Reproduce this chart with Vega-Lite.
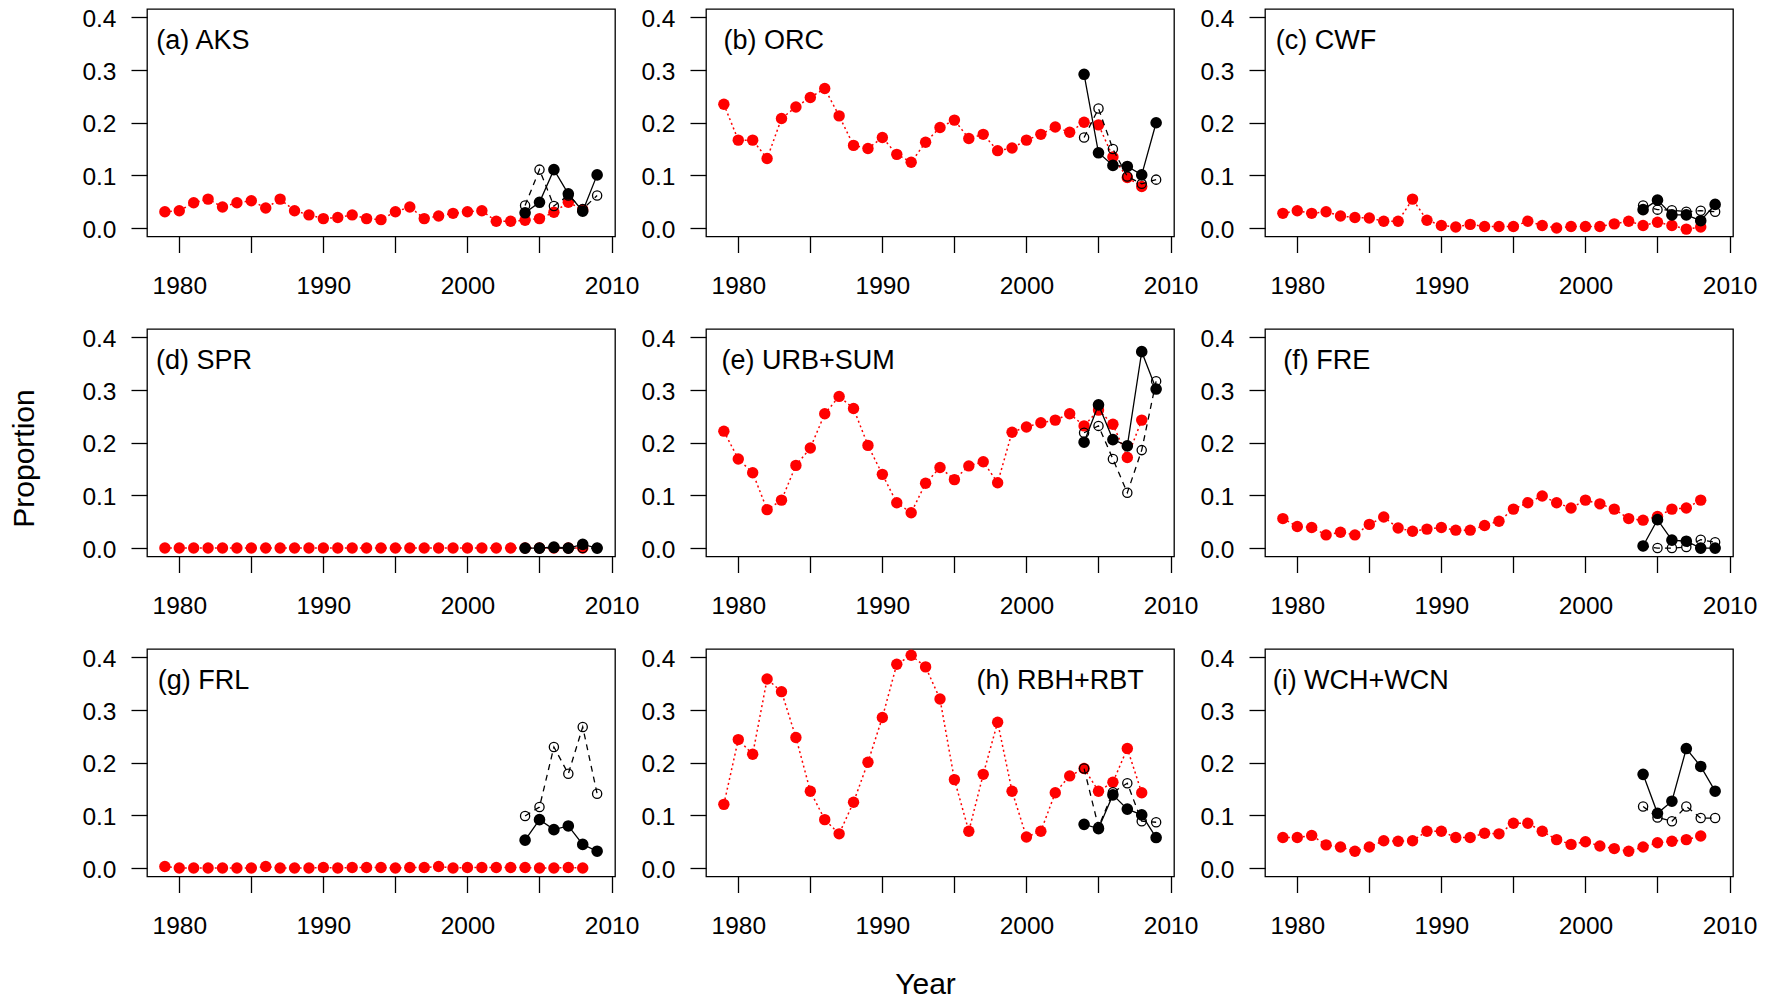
{
"$schema": "https://vega.github.io/schema/vega-lite/v6.json",
"padding": {"left": 8, "top": 5, "right": 10, "bottom": 5},
"columns": 3,
"spacing": {"row": 92, "column": 91},
"bounds": "flush",
"config": {
  "font": "Liberation Sans",
  "view": {"stroke": "black", "strokeWidth": 1.3},
  "axis": {"domain": false, "grid": false, "tickColor": "black", "tickWidth": 1.3, "tickSize": 16, "labelColor": "black", "labelFont": "Liberation Sans", "labelFontSize": 24.5, "labelFlush": false, "labelOverlap": false, "titleFont": "Liberation Sans", "titleFontSize": 30, "titleFontWeight": "normal", "titleColor": "black"},
  "axisX": {"labelPadding": 22},
  "axisY": {"labelPadding": 15, "labelOffset": 2},
  "text": {"font": "Liberation Sans", "fontSize": 27, "fill": "black"}
},
"datasets": {
"labels": [{"panel":"a","label":"(a) AKS"},{"panel":"b","label":"(b) ORC"},{"panel":"c","label":"(c) CWF"},{"panel":"d","label":"(d) SPR"},{"panel":"e","label":"(e) URB+SUM"},{"panel":"f","label":"(f) FRE"},{"panel":"g","label":"(g) FRL"},{"panel":"h","label":"(h) RBH+RBT"},{"panel":"i","label":"(i) WCH+WCN"}],
"a_hist": [{"year":1979,"value":0.031},{"year":1980,"value":0.033},{"year":1981,"value":0.048},{"year":1982,"value":0.055},{"year":1983,"value":0.040},{"year":1984,"value":0.048},{"year":1985,"value":0.052},{"year":1986,"value":0.038},{"year":1987,"value":0.055},{"year":1988,"value":0.033},{"year":1989,"value":0.025},{"year":1990,"value":0.018},{"year":1991,"value":0.020},{"year":1992,"value":0.025},{"year":1993,"value":0.018},{"year":1994,"value":0.016},{"year":1995,"value":0.031},{"year":1996,"value":0.040},{"year":1997,"value":0.018},{"year":1998,"value":0.023},{"year":1999,"value":0.028},{"year":2000,"value":0.031},{"year":2001,"value":0.033},{"year":2002,"value":0.013},{"year":2003,"value":0.013},{"year":2004,"value":0.015},{"year":2005,"value":0.018},{"year":2006,"value":0.030},{"year":2007,"value":0.049},{"year":2008,"value":0.035}],
"a_m1": [{"year":2004,"value":0.029},{"year":2005,"value":0.049},{"year":2006,"value":0.111},{"year":2007,"value":0.065},{"year":2008,"value":0.032},{"year":2009,"value":0.101}],
"a_m2": [{"year":2004,"value":0.043},{"year":2005,"value":0.111},{"year":2006,"value":0.042},{"year":2007,"value":0.062},{"year":2008,"value":0.036},{"year":2009,"value":0.062}],
"b_hist": [{"year":1979,"value":0.235},{"year":1980,"value":0.167},{"year":1981,"value":0.167},{"year":1982,"value":0.132},{"year":1983,"value":0.208},{"year":1984,"value":0.230},{"year":1985,"value":0.248},{"year":1986,"value":0.265},{"year":1987,"value":0.213},{"year":1988,"value":0.157},{"year":1989,"value":0.151},{"year":1990,"value":0.172},{"year":1991,"value":0.140},{"year":1992,"value":0.125},{"year":1993,"value":0.163},{"year":1994,"value":0.191},{"year":1995,"value":0.205},{"year":1996,"value":0.170},{"year":1997,"value":0.178},{"year":1998,"value":0.147},{"year":1999,"value":0.152},{"year":2000,"value":0.167},{"year":2001,"value":0.178},{"year":2002,"value":0.192},{"year":2003,"value":0.182},{"year":2004,"value":0.201},{"year":2005,"value":0.196},{"year":2006,"value":0.135},{"year":2007,"value":0.096},{"year":2008,"value":0.079}],
"b_m1": [{"year":2004,"value":0.292},{"year":2005,"value":0.143},{"year":2006,"value":0.119},{"year":2007,"value":0.117},{"year":2008,"value":0.101},{"year":2009,"value":0.200}],
"b_m2": [{"year":2004,"value":0.172},{"year":2005,"value":0.227},{"year":2006,"value":0.150},{"year":2007,"value":0.098},{"year":2008,"value":0.084},{"year":2009,"value":0.092}],
"c_hist": [{"year":1979,"value":0.028},{"year":1980,"value":0.033},{"year":1981,"value":0.028},{"year":1982,"value":0.031},{"year":1983,"value":0.023},{"year":1984,"value":0.020},{"year":1985,"value":0.019},{"year":1986,"value":0.013},{"year":1987,"value":0.013},{"year":1988,"value":0.055},{"year":1989,"value":0.015},{"year":1990,"value":0.005},{"year":1991,"value":0.002},{"year":1992,"value":0.007},{"year":1993,"value":0.003},{"year":1994,"value":0.003},{"year":1995,"value":0.003},{"year":1996,"value":0.013},{"year":1997,"value":0.005},{"year":1998,"value":0.000},{"year":1999,"value":0.003},{"year":2000,"value":0.003},{"year":2001,"value":0.003},{"year":2002,"value":0.008},{"year":2003,"value":0.013},{"year":2004,"value":0.005},{"year":2005,"value":0.011},{"year":2006,"value":0.005},{"year":2007,"value":-0.002},{"year":2008,"value":0.002}],
"c_m1": [{"year":2004,"value":0.035},{"year":2005,"value":0.053},{"year":2006,"value":0.025},{"year":2007,"value":0.025},{"year":2008,"value":0.014},{"year":2009,"value":0.045}],
"c_m2": [{"year":2004,"value":0.043},{"year":2005,"value":0.035},{"year":2006,"value":0.034},{"year":2007,"value":0.031},{"year":2008,"value":0.033},{"year":2009,"value":0.031}],
"d_hist": [{"year":1979,"value":0},{"year":1980,"value":0},{"year":1981,"value":0},{"year":1982,"value":0},{"year":1983,"value":0},{"year":1984,"value":0},{"year":1985,"value":0},{"year":1986,"value":0},{"year":1987,"value":0},{"year":1988,"value":0},{"year":1989,"value":0},{"year":1990,"value":0},{"year":1991,"value":0},{"year":1992,"value":0},{"year":1993,"value":0},{"year":1994,"value":0},{"year":1995,"value":0},{"year":1996,"value":0},{"year":1997,"value":0},{"year":1998,"value":0},{"year":1999,"value":0},{"year":2000,"value":0},{"year":2001,"value":0},{"year":2002,"value":0},{"year":2003,"value":0},{"year":2004,"value":0},{"year":2005,"value":0},{"year":2006,"value":0},{"year":2007,"value":0},{"year":2008,"value":0}],
"d_m1": [{"year":2004,"value":0},{"year":2005,"value":0},{"year":2006,"value":0.002},{"year":2007,"value":0},{"year":2008,"value":0.007},{"year":2009,"value":0}],
"d_m2": [{"year":2004,"value":0},{"year":2005,"value":0},{"year":2006,"value":0},{"year":2007,"value":0},{"year":2008,"value":0},{"year":2009,"value":0}],
"e_hist": [{"year":1979,"value":0.222},{"year":1980,"value":0.169},{"year":1981,"value":0.143},{"year":1982,"value":0.073},{"year":1983,"value":0.091},{"year":1984,"value":0.157},{"year":1985,"value":0.190},{"year":1986,"value":0.255},{"year":1987,"value":0.288},{"year":1988,"value":0.265},{"year":1989,"value":0.195},{"year":1990,"value":0.140},{"year":1991,"value":0.086},{"year":1992,"value":0.067},{"year":1993,"value":0.123},{"year":1994,"value":0.153},{"year":1995,"value":0.130},{"year":1996,"value":0.156},{"year":1997,"value":0.164},{"year":1998,"value":0.124},{"year":1999,"value":0.220},{"year":2000,"value":0.230},{"year":2001,"value":0.238},{"year":2002,"value":0.243},{"year":2003,"value":0.255},{"year":2004,"value":0.232},{"year":2005,"value":0.262},{"year":2006,"value":0.235},{"year":2007,"value":0.172},{"year":2008,"value":0.243}],
"e_m1": [{"year":2004,"value":0.201},{"year":2005,"value":0.272},{"year":2006,"value":0.206},{"year":2007,"value":0.194},{"year":2008,"value":0.373},{"year":2009,"value":0.302}],
"e_m2": [{"year":2004,"value":0.219},{"year":2005,"value":0.232},{"year":2006,"value":0.169},{"year":2007,"value":0.105},{"year":2008,"value":0.186},{"year":2009,"value":0.317}],
"f_hist": [{"year":1979,"value":0.056},{"year":1980,"value":0.041},{"year":1981,"value":0.039},{"year":1982,"value":0.025},{"year":1983,"value":0.030},{"year":1984,"value":0.025},{"year":1985,"value":0.045},{"year":1986,"value":0.059},{"year":1987,"value":0.038},{"year":1988,"value":0.032},{"year":1989,"value":0.036},{"year":1990,"value":0.039},{"year":1991,"value":0.034},{"year":1992,"value":0.034},{"year":1993,"value":0.043},{"year":1994,"value":0.051},{"year":1995,"value":0.074},{"year":1996,"value":0.086},{"year":1997,"value":0.099},{"year":1998,"value":0.086},{"year":1999,"value":0.076},{"year":2000,"value":0.091},{"year":2001,"value":0.084},{"year":2002,"value":0.074},{"year":2003,"value":0.056},{"year":2004,"value":0.053},{"year":2005,"value":0.060},{"year":2006,"value":0.074},{"year":2007,"value":0.076},{"year":2008,"value":0.091}],
"f_m1": [{"year":2004,"value":0.004},{"year":2005,"value":0.054},{"year":2006,"value":0.015},{"year":2007,"value":0.013},{"year":2008,"value":0.000},{"year":2009,"value":0.000}],
"f_m2": [{"year":2004,"value":0.004},{"year":2005,"value":0.000},{"year":2006,"value":0.000},{"year":2007,"value":0.002},{"year":2008,"value":0.016},{"year":2009,"value":0.011}],
"g_hist": [{"year":1979,"value":0.003},{"year":1980,"value":0},{"year":1981,"value":0},{"year":1982,"value":0},{"year":1983,"value":0},{"year":1984,"value":0},{"year":1985,"value":0},{"year":1986,"value":0.003},{"year":1987,"value":0},{"year":1988,"value":0},{"year":1989,"value":0},{"year":1990,"value":0.001},{"year":1991,"value":0},{"year":1992,"value":0.001},{"year":1993,"value":0.001},{"year":1994,"value":0.001},{"year":1995,"value":0},{"year":1996,"value":0.001},{"year":1997,"value":0.001},{"year":1998,"value":0.003},{"year":1999,"value":0},{"year":2000,"value":0.001},{"year":2001,"value":0.001},{"year":2002,"value":0.001},{"year":2003,"value":0.001},{"year":2004,"value":0.001},{"year":2005,"value":0},{"year":2006,"value":0},{"year":2007,"value":0.001},{"year":2008,"value":0}],
"g_m1": [{"year":2004,"value":0.053},{"year":2005,"value":0.092},{"year":2006,"value":0.073},{"year":2007,"value":0.080},{"year":2008,"value":0.045},{"year":2009,"value":0.032}],
"g_m2": [{"year":2004,"value":0.099},{"year":2005,"value":0.116},{"year":2006,"value":0.230},{"year":2007,"value":0.179},{"year":2008,"value":0.268},{"year":2009,"value":0.141}],
"h_hist": [{"year":1979,"value":0.121},{"year":1980,"value":0.244},{"year":1981,"value":0.216},{"year":1982,"value":0.359},{"year":1983,"value":0.335},{"year":1984,"value":0.248},{"year":1985,"value":0.146},{"year":1986,"value":0.092},{"year":1987,"value":0.065},{"year":1988,"value":0.125},{"year":1989,"value":0.201},{"year":1990,"value":0.286},{"year":1991,"value":0.387},{"year":1992,"value":0.404},{"year":1993,"value":0.382},{"year":1994,"value":0.321},{"year":1995,"value":0.168},{"year":1996,"value":0.070},{"year":1997,"value":0.178},{"year":1998,"value":0.277},{"year":1999,"value":0.146},{"year":2000,"value":0.059},{"year":2001,"value":0.070},{"year":2002,"value":0.143},{"year":2003,"value":0.175},{"year":2004,"value":0.189},{"year":2005,"value":0.146},{"year":2006,"value":0.163},{"year":2007,"value":0.227},{"year":2008,"value":0.143}],
"h_m1": [{"year":2004,"value":0.083},{"year":2005,"value":0.075},{"year":2006,"value":0.139},{"year":2007,"value":0.112},{"year":2008,"value":0.101},{"year":2009,"value":0.058}],
"h_m2": [{"year":2004,"value":0.189},{"year":2005,"value":0.078},{"year":2006,"value":0.144},{"year":2007,"value":0.161},{"year":2008,"value":0.089},{"year":2009,"value":0.087}],
"i_hist": [{"year":1979,"value":0.058},{"year":1980,"value":0.058},{"year":1981,"value":0.062},{"year":1982,"value":0.044},{"year":1983,"value":0.040},{"year":1984,"value":0.032},{"year":1985,"value":0.040},{"year":1986,"value":0.052},{"year":1987,"value":0.051},{"year":1988,"value":0.052},{"year":1989,"value":0.070},{"year":1990,"value":0.070},{"year":1991,"value":0.058},{"year":1992,"value":0.058},{"year":1993,"value":0.066},{"year":1994,"value":0.065},{"year":1995,"value":0.085},{"year":1996,"value":0.085},{"year":1997,"value":0.070},{"year":1998,"value":0.054},{"year":1999,"value":0.045},{"year":2000,"value":0.050},{"year":2001,"value":0.042},{"year":2002,"value":0.037},{"year":2003,"value":0.032},{"year":2004,"value":0.040},{"year":2005,"value":0.048},{"year":2006,"value":0.051},{"year":2007,"value":0.054},{"year":2008,"value":0.061}],
"i_m1": [{"year":2004,"value":0.178},{"year":2005,"value":0.104},{"year":2006,"value":0.127},{"year":2007,"value":0.227},{"year":2008,"value":0.193},{"year":2009,"value":0.146}],
"i_m2": [{"year":2004,"value":0.117},{"year":2005,"value":0.096},{"year":2006,"value":0.089},{"year":2007,"value":0.117},{"year":2008,"value":0.095},{"year":2009,"value":0.095}]
},
"concat": [
{"width":468,"height":227.5,"layer":[
 {"data":{"name":"a_hist"},"mark":{"type":"line","color":"#ff0000","strokeDash":[2,3],"strokeWidth":1.5},"encoding":{"x":{"field":"year","type":"quantitative","title":null,"scale":{"domain":[1977.76,2010.24],"nice":false,"zero":false},"axis":{"values":[1980,1985,1990,1995,2000,2005,2010],"format":"d","labelExpr":"datum.value % 10 === 0 ? datum.label : ''"}},"y":{"field":"value","type":"quantitative","title":null,"scale":{"domain":[-0.016,0.416],"nice":false,"zero":false},"axis":{"values":[0,0.1,0.2,0.3,0.4],"format":".1f"}}}},
 {"data":{"name":"a_hist"},"mark":{"type":"point","shape":"circle","filled":true,"color":"#ff0000","size":130,"opacity":1},"encoding":{"x":{"field":"year","type":"quantitative","title":null},"y":{"field":"value","type":"quantitative","title":null}}},
 {"data":{"name":"a_m2"},"mark":{"type":"line","color":"black","strokeDash":[6,5],"strokeWidth":1.3},"encoding":{"x":{"field":"year","type":"quantitative","title":null},"y":{"field":"value","type":"quantitative","title":null}}},
 {"data":{"name":"a_m2"},"mark":{"type":"point","shape":"circle","filled":false,"color":"black","size":85,"strokeWidth":1.3,"opacity":1},"encoding":{"x":{"field":"year","type":"quantitative","title":null},"y":{"field":"value","type":"quantitative","title":null}}},
 {"data":{"name":"a_m1"},"mark":{"type":"line","color":"black","strokeWidth":1.3},"encoding":{"x":{"field":"year","type":"quantitative","title":null},"y":{"field":"value","type":"quantitative","title":null}}},
 {"data":{"name":"a_m1"},"mark":{"type":"point","shape":"circle","filled":true,"color":"black","size":135,"opacity":1},"encoding":{"x":{"field":"year","type":"quantitative","title":null},"y":{"field":"value","type":"quantitative","title":null}}},
 {"data":{"name":"labels"},"transform":[{"filter":"datum.panel === 'a'"}],"mark":{"type":"text","align":"left","baseline":"alphabetic"},"encoding":{"x":{"datum":1978.41},"y":{"datum":0.34},"text":{"field":"label","type":"nominal"}}}
]},
{"width":468,"height":227.5,"layer":[
 {"data":{"name":"b_hist"},"mark":{"type":"line","color":"#ff0000","strokeDash":[2,3],"strokeWidth":1.5},"encoding":{"x":{"field":"year","type":"quantitative","title":null,"scale":{"domain":[1977.76,2010.24],"nice":false,"zero":false},"axis":{"values":[1980,1985,1990,1995,2000,2005,2010],"format":"d","labelExpr":"datum.value % 10 === 0 ? datum.label : ''"}},"y":{"field":"value","type":"quantitative","title":null,"scale":{"domain":[-0.016,0.416],"nice":false,"zero":false},"axis":{"values":[0,0.1,0.2,0.3,0.4],"format":".1f"}}}},
 {"data":{"name":"b_hist"},"mark":{"type":"point","shape":"circle","filled":true,"color":"#ff0000","size":130,"opacity":1},"encoding":{"x":{"field":"year","type":"quantitative","title":null},"y":{"field":"value","type":"quantitative","title":null}}},
 {"data":{"name":"b_m2"},"mark":{"type":"line","color":"black","strokeDash":[6,5],"strokeWidth":1.3},"encoding":{"x":{"field":"year","type":"quantitative","title":null},"y":{"field":"value","type":"quantitative","title":null}}},
 {"data":{"name":"b_m2"},"mark":{"type":"point","shape":"circle","filled":false,"color":"black","size":85,"strokeWidth":1.3,"opacity":1},"encoding":{"x":{"field":"year","type":"quantitative","title":null},"y":{"field":"value","type":"quantitative","title":null}}},
 {"data":{"name":"b_m1"},"mark":{"type":"line","color":"black","strokeWidth":1.3},"encoding":{"x":{"field":"year","type":"quantitative","title":null},"y":{"field":"value","type":"quantitative","title":null}}},
 {"data":{"name":"b_m1"},"mark":{"type":"point","shape":"circle","filled":true,"color":"black","size":135,"opacity":1},"encoding":{"x":{"field":"year","type":"quantitative","title":null},"y":{"field":"value","type":"quantitative","title":null}}},
 {"data":{"name":"labels"},"transform":[{"filter":"datum.panel === 'b'"}],"mark":{"type":"text","align":"left","baseline":"alphabetic"},"encoding":{"x":{"datum":1978.97},"y":{"datum":0.34},"text":{"field":"label","type":"nominal"}}}
]},
{"width":468,"height":227.5,"layer":[
 {"data":{"name":"c_hist"},"mark":{"type":"line","color":"#ff0000","strokeDash":[2,3],"strokeWidth":1.5},"encoding":{"x":{"field":"year","type":"quantitative","title":null,"scale":{"domain":[1977.76,2010.24],"nice":false,"zero":false},"axis":{"values":[1980,1985,1990,1995,2000,2005,2010],"format":"d","labelExpr":"datum.value % 10 === 0 ? datum.label : ''"}},"y":{"field":"value","type":"quantitative","title":null,"scale":{"domain":[-0.016,0.416],"nice":false,"zero":false},"axis":{"values":[0,0.1,0.2,0.3,0.4],"format":".1f"}}}},
 {"data":{"name":"c_hist"},"mark":{"type":"point","shape":"circle","filled":true,"color":"#ff0000","size":130,"opacity":1},"encoding":{"x":{"field":"year","type":"quantitative","title":null},"y":{"field":"value","type":"quantitative","title":null}}},
 {"data":{"name":"c_m2"},"mark":{"type":"line","color":"black","strokeDash":[6,5],"strokeWidth":1.3},"encoding":{"x":{"field":"year","type":"quantitative","title":null},"y":{"field":"value","type":"quantitative","title":null}}},
 {"data":{"name":"c_m2"},"mark":{"type":"point","shape":"circle","filled":false,"color":"black","size":85,"strokeWidth":1.3,"opacity":1},"encoding":{"x":{"field":"year","type":"quantitative","title":null},"y":{"field":"value","type":"quantitative","title":null}}},
 {"data":{"name":"c_m1"},"mark":{"type":"line","color":"black","strokeWidth":1.3},"encoding":{"x":{"field":"year","type":"quantitative","title":null},"y":{"field":"value","type":"quantitative","title":null}}},
 {"data":{"name":"c_m1"},"mark":{"type":"point","shape":"circle","filled":true,"color":"black","size":135,"opacity":1},"encoding":{"x":{"field":"year","type":"quantitative","title":null},"y":{"field":"value","type":"quantitative","title":null}}},
 {"data":{"name":"labels"},"transform":[{"filter":"datum.panel === 'c'"}],"mark":{"type":"text","align":"left","baseline":"alphabetic"},"encoding":{"x":{"datum":1978.5},"y":{"datum":0.34},"text":{"field":"label","type":"nominal"}}}
]},
{"width":468,"height":227.5,"layer":[
 {"data":{"name":"d_hist"},"mark":{"type":"line","color":"#ff0000","strokeDash":[2,3],"strokeWidth":1.5},"encoding":{"x":{"field":"year","type":"quantitative","title":null,"scale":{"domain":[1977.76,2010.24],"nice":false,"zero":false},"axis":{"values":[1980,1985,1990,1995,2000,2005,2010],"format":"d","labelExpr":"datum.value % 10 === 0 ? datum.label : ''"}},"y":{"field":"value","type":"quantitative","title":"Proportion","scale":{"domain":[-0.016,0.416],"nice":false,"zero":false},"axis":{"values":[0,0.1,0.2,0.3,0.4],"format":".1f","titleX":-108,"titleY":129}}}},
 {"data":{"name":"d_hist"},"mark":{"type":"point","shape":"circle","filled":true,"color":"#ff0000","size":130,"opacity":1},"encoding":{"x":{"field":"year","type":"quantitative","title":null},"y":{"field":"value","type":"quantitative","title":"Proportion"}}},
 {"data":{"name":"d_m2"},"mark":{"type":"line","color":"black","strokeDash":[6,5],"strokeWidth":1.3},"encoding":{"x":{"field":"year","type":"quantitative","title":null},"y":{"field":"value","type":"quantitative","title":"Proportion"}}},
 {"data":{"name":"d_m2"},"mark":{"type":"point","shape":"circle","filled":false,"color":"black","size":85,"strokeWidth":1.3,"opacity":1},"encoding":{"x":{"field":"year","type":"quantitative","title":null},"y":{"field":"value","type":"quantitative","title":"Proportion"}}},
 {"data":{"name":"d_m1"},"mark":{"type":"line","color":"black","strokeWidth":1.3},"encoding":{"x":{"field":"year","type":"quantitative","title":null},"y":{"field":"value","type":"quantitative","title":"Proportion"}}},
 {"data":{"name":"d_m1"},"mark":{"type":"point","shape":"circle","filled":true,"color":"black","size":135,"opacity":1},"encoding":{"x":{"field":"year","type":"quantitative","title":null},"y":{"field":"value","type":"quantitative","title":"Proportion"}}},
 {"data":{"name":"labels"},"transform":[{"filter":"datum.panel === 'd'"}],"mark":{"type":"text","align":"left","baseline":"alphabetic"},"encoding":{"x":{"datum":1978.38},"y":{"datum":0.34},"text":{"field":"label","type":"nominal"}}}
]},
{"width":468,"height":227.5,"layer":[
 {"data":{"name":"e_hist"},"mark":{"type":"line","color":"#ff0000","strokeDash":[2,3],"strokeWidth":1.5},"encoding":{"x":{"field":"year","type":"quantitative","title":null,"scale":{"domain":[1977.76,2010.24],"nice":false,"zero":false},"axis":{"values":[1980,1985,1990,1995,2000,2005,2010],"format":"d","labelExpr":"datum.value % 10 === 0 ? datum.label : ''"}},"y":{"field":"value","type":"quantitative","title":null,"scale":{"domain":[-0.016,0.416],"nice":false,"zero":false},"axis":{"values":[0,0.1,0.2,0.3,0.4],"format":".1f"}}}},
 {"data":{"name":"e_hist"},"mark":{"type":"point","shape":"circle","filled":true,"color":"#ff0000","size":130,"opacity":1},"encoding":{"x":{"field":"year","type":"quantitative","title":null},"y":{"field":"value","type":"quantitative","title":null}}},
 {"data":{"name":"e_m2"},"mark":{"type":"line","color":"black","strokeDash":[6,5],"strokeWidth":1.3},"encoding":{"x":{"field":"year","type":"quantitative","title":null},"y":{"field":"value","type":"quantitative","title":null}}},
 {"data":{"name":"e_m2"},"mark":{"type":"point","shape":"circle","filled":false,"color":"black","size":85,"strokeWidth":1.3,"opacity":1},"encoding":{"x":{"field":"year","type":"quantitative","title":null},"y":{"field":"value","type":"quantitative","title":null}}},
 {"data":{"name":"e_m1"},"mark":{"type":"line","color":"black","strokeWidth":1.3},"encoding":{"x":{"field":"year","type":"quantitative","title":null},"y":{"field":"value","type":"quantitative","title":null}}},
 {"data":{"name":"e_m1"},"mark":{"type":"point","shape":"circle","filled":true,"color":"black","size":135,"opacity":1},"encoding":{"x":{"field":"year","type":"quantitative","title":null},"y":{"field":"value","type":"quantitative","title":null}}},
 {"data":{"name":"labels"},"transform":[{"filter":"datum.panel === 'e'"}],"mark":{"type":"text","align":"left","baseline":"alphabetic"},"encoding":{"x":{"datum":1978.84},"y":{"datum":0.34},"text":{"field":"label","type":"nominal"}}}
]},
{"width":468,"height":227.5,"layer":[
 {"data":{"name":"f_hist"},"mark":{"type":"line","color":"#ff0000","strokeDash":[2,3],"strokeWidth":1.5},"encoding":{"x":{"field":"year","type":"quantitative","title":null,"scale":{"domain":[1977.76,2010.24],"nice":false,"zero":false},"axis":{"values":[1980,1985,1990,1995,2000,2005,2010],"format":"d","labelExpr":"datum.value % 10 === 0 ? datum.label : ''"}},"y":{"field":"value","type":"quantitative","title":null,"scale":{"domain":[-0.016,0.416],"nice":false,"zero":false},"axis":{"values":[0,0.1,0.2,0.3,0.4],"format":".1f"}}}},
 {"data":{"name":"f_hist"},"mark":{"type":"point","shape":"circle","filled":true,"color":"#ff0000","size":130,"opacity":1},"encoding":{"x":{"field":"year","type":"quantitative","title":null},"y":{"field":"value","type":"quantitative","title":null}}},
 {"data":{"name":"f_m2"},"mark":{"type":"line","color":"black","strokeDash":[6,5],"strokeWidth":1.3},"encoding":{"x":{"field":"year","type":"quantitative","title":null},"y":{"field":"value","type":"quantitative","title":null}}},
 {"data":{"name":"f_m2"},"mark":{"type":"point","shape":"circle","filled":false,"color":"black","size":85,"strokeWidth":1.3,"opacity":1},"encoding":{"x":{"field":"year","type":"quantitative","title":null},"y":{"field":"value","type":"quantitative","title":null}}},
 {"data":{"name":"f_m1"},"mark":{"type":"line","color":"black","strokeWidth":1.3},"encoding":{"x":{"field":"year","type":"quantitative","title":null},"y":{"field":"value","type":"quantitative","title":null}}},
 {"data":{"name":"f_m1"},"mark":{"type":"point","shape":"circle","filled":true,"color":"black","size":135,"opacity":1},"encoding":{"x":{"field":"year","type":"quantitative","title":null},"y":{"field":"value","type":"quantitative","title":null}}},
 {"data":{"name":"labels"},"transform":[{"filter":"datum.panel === 'f'"}],"mark":{"type":"text","align":"left","baseline":"alphabetic"},"encoding":{"x":{"datum":1979.03},"y":{"datum":0.34},"text":{"field":"label","type":"nominal"}}}
]},
{"width":468,"height":227.5,"layer":[
 {"data":{"name":"g_hist"},"mark":{"type":"line","color":"#ff0000","strokeDash":[2,3],"strokeWidth":1.5},"encoding":{"x":{"field":"year","type":"quantitative","title":null,"scale":{"domain":[1977.76,2010.24],"nice":false,"zero":false},"axis":{"values":[1980,1985,1990,1995,2000,2005,2010],"format":"d","labelExpr":"datum.value % 10 === 0 ? datum.label : ''"}},"y":{"field":"value","type":"quantitative","title":null,"scale":{"domain":[-0.016,0.416],"nice":false,"zero":false},"axis":{"values":[0,0.1,0.2,0.3,0.4],"format":".1f"}}}},
 {"data":{"name":"g_hist"},"mark":{"type":"point","shape":"circle","filled":true,"color":"#ff0000","size":130,"opacity":1},"encoding":{"x":{"field":"year","type":"quantitative","title":null},"y":{"field":"value","type":"quantitative","title":null}}},
 {"data":{"name":"g_m2"},"mark":{"type":"line","color":"black","strokeDash":[6,5],"strokeWidth":1.3},"encoding":{"x":{"field":"year","type":"quantitative","title":null},"y":{"field":"value","type":"quantitative","title":null}}},
 {"data":{"name":"g_m2"},"mark":{"type":"point","shape":"circle","filled":false,"color":"black","size":85,"strokeWidth":1.3,"opacity":1},"encoding":{"x":{"field":"year","type":"quantitative","title":null},"y":{"field":"value","type":"quantitative","title":null}}},
 {"data":{"name":"g_m1"},"mark":{"type":"line","color":"black","strokeWidth":1.3},"encoding":{"x":{"field":"year","type":"quantitative","title":null},"y":{"field":"value","type":"quantitative","title":null}}},
 {"data":{"name":"g_m1"},"mark":{"type":"point","shape":"circle","filled":true,"color":"black","size":135,"opacity":1},"encoding":{"x":{"field":"year","type":"quantitative","title":null},"y":{"field":"value","type":"quantitative","title":null}}},
 {"data":{"name":"labels"},"transform":[{"filter":"datum.panel === 'g'"}],"mark":{"type":"text","align":"left","baseline":"alphabetic"},"encoding":{"x":{"datum":1978.5},"y":{"datum":0.34},"text":{"field":"label","type":"nominal"}}}
]},
{"width":468,"height":227.5,"layer":[
 {"data":{"name":"h_hist"},"mark":{"type":"line","color":"#ff0000","strokeDash":[2,3],"strokeWidth":1.5},"encoding":{"x":{"field":"year","type":"quantitative","title":"Year","scale":{"domain":[1977.76,2010.24],"nice":false,"zero":false},"axis":{"values":[1980,1985,1990,1995,2000,2005,2010],"format":"d","labelExpr":"datum.value % 10 === 0 ? datum.label : ''","titleX":219,"titleY":93}},"y":{"field":"value","type":"quantitative","title":null,"scale":{"domain":[-0.016,0.416],"nice":false,"zero":false},"axis":{"values":[0,0.1,0.2,0.3,0.4],"format":".1f"}}}},
 {"data":{"name":"h_hist"},"mark":{"type":"point","shape":"circle","filled":true,"color":"#ff0000","size":130,"opacity":1},"encoding":{"x":{"field":"year","type":"quantitative","title":"Year"},"y":{"field":"value","type":"quantitative","title":null}}},
 {"data":{"name":"h_m2"},"mark":{"type":"line","color":"black","strokeDash":[6,5],"strokeWidth":1.3},"encoding":{"x":{"field":"year","type":"quantitative","title":"Year"},"y":{"field":"value","type":"quantitative","title":null}}},
 {"data":{"name":"h_m2"},"mark":{"type":"point","shape":"circle","filled":false,"color":"black","size":85,"strokeWidth":1.3,"opacity":1},"encoding":{"x":{"field":"year","type":"quantitative","title":"Year"},"y":{"field":"value","type":"quantitative","title":null}}},
 {"data":{"name":"h_m1"},"mark":{"type":"line","color":"black","strokeWidth":1.3},"encoding":{"x":{"field":"year","type":"quantitative","title":"Year"},"y":{"field":"value","type":"quantitative","title":null}}},
 {"data":{"name":"h_m1"},"mark":{"type":"point","shape":"circle","filled":true,"color":"black","size":135,"opacity":1},"encoding":{"x":{"field":"year","type":"quantitative","title":"Year"},"y":{"field":"value","type":"quantitative","title":null}}},
 {"data":{"name":"labels"},"transform":[{"filter":"datum.panel === 'h'"}],"mark":{"type":"text","align":"right","baseline":"alphabetic"},"encoding":{"x":{"datum":2008.14},"y":{"datum":0.34},"text":{"field":"label","type":"nominal"}}}
]},
{"width":468,"height":227.5,"layer":[
 {"data":{"name":"i_hist"},"mark":{"type":"line","color":"#ff0000","strokeDash":[2,3],"strokeWidth":1.5},"encoding":{"x":{"field":"year","type":"quantitative","title":null,"scale":{"domain":[1977.76,2010.24],"nice":false,"zero":false},"axis":{"values":[1980,1985,1990,1995,2000,2005,2010],"format":"d","labelExpr":"datum.value % 10 === 0 ? datum.label : ''"}},"y":{"field":"value","type":"quantitative","title":null,"scale":{"domain":[-0.016,0.416],"nice":false,"zero":false},"axis":{"values":[0,0.1,0.2,0.3,0.4],"format":".1f"}}}},
 {"data":{"name":"i_hist"},"mark":{"type":"point","shape":"circle","filled":true,"color":"#ff0000","size":130,"opacity":1},"encoding":{"x":{"field":"year","type":"quantitative","title":null},"y":{"field":"value","type":"quantitative","title":null}}},
 {"data":{"name":"i_m2"},"mark":{"type":"line","color":"black","strokeDash":[6,5],"strokeWidth":1.3},"encoding":{"x":{"field":"year","type":"quantitative","title":null},"y":{"field":"value","type":"quantitative","title":null}}},
 {"data":{"name":"i_m2"},"mark":{"type":"point","shape":"circle","filled":false,"color":"black","size":85,"strokeWidth":1.3,"opacity":1},"encoding":{"x":{"field":"year","type":"quantitative","title":null},"y":{"field":"value","type":"quantitative","title":null}}},
 {"data":{"name":"i_m1"},"mark":{"type":"line","color":"black","strokeWidth":1.3},"encoding":{"x":{"field":"year","type":"quantitative","title":null},"y":{"field":"value","type":"quantitative","title":null}}},
 {"data":{"name":"i_m1"},"mark":{"type":"point","shape":"circle","filled":true,"color":"black","size":135,"opacity":1},"encoding":{"x":{"field":"year","type":"quantitative","title":null},"y":{"field":"value","type":"quantitative","title":null}}},
 {"data":{"name":"labels"},"transform":[{"filter":"datum.panel === 'i'"}],"mark":{"type":"text","align":"left","baseline":"alphabetic"},"encoding":{"x":{"datum":1978.29},"y":{"datum":0.34},"text":{"field":"label","type":"nominal"}}}
]}
]
}
